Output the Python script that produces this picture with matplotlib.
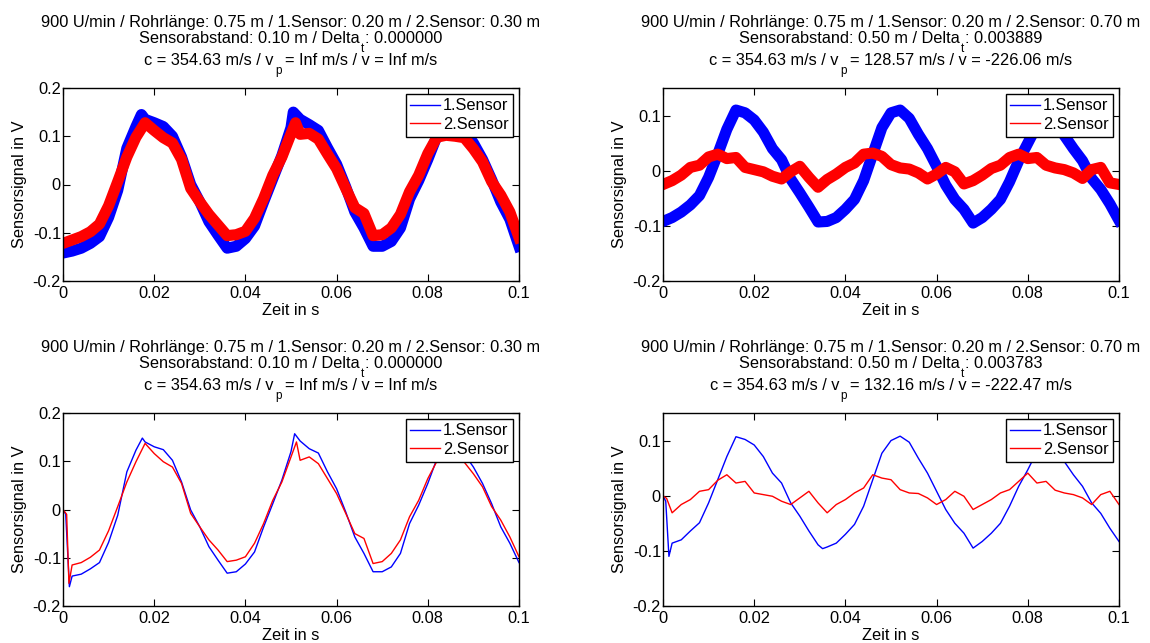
import matplotlib
matplotlib.use("Agg")
import matplotlib.pyplot as plt
from matplotlib.lines import Line2D

plt.rcParams['font.family'] = ['Liberation Sans', 'DejaVu Sans']

# ---------------- data ----------------
x_ticks = [0, 0.02, 0.04, 0.06, 0.08, 0.1]
x_ticklabels = ["0", "0.02", "0.04", "0.06", "0.08", "0.1"]
y_ticks_left = [-0.2, -0.1, 0, 0.1, 0.2]
y_ticklabels_left = ["-0.2", "-0.1", "0", "0.1", "0.2"]
y_ticks_right = [-0.2, -0.1, 0, 0.1]
y_ticklabels_right = ["-0.2", "-0.1", "0", "0.1"]
legend_labels = ["1.Sensor", "2.Sensor"]

# title lines: (main text, subscript, rest)
titles_left = [("900 U/min / Rohrlänge: 0.75 m / 1.Sensor: 0.20 m / 2.Sensor: 0.30 m", "", ""),
               ("Sensorabstand: 0.10 m / Delta", "t", ": 0.000000"),
               ("c = 354.63 m/s / v", "p", "= Inf m/s / v = Inf m/s")]
titles_tr = [("900 U/min / Rohrlänge: 0.75 m / 1.Sensor: 0.20 m / 2.Sensor: 0.70 m", "", ""),
             ("Sensorabstand: 0.50 m / Delta", "t", ": 0.003889"),
             ("c = 354.63 m/s / v", "p", "= 128.57 m/s / v = -226.06 m/s")]
titles_br = [("900 U/min / Rohrlänge: 0.75 m / 1.Sensor: 0.20 m / 2.Sensor: 0.70 m", "", ""),
             ("Sensorabstand: 0.50 m / Delta", "t", ": 0.003783"),
             ("c = 354.63 m/s / v", "p", "= 132.16 m/s / v = -222.47 m/s")]

# bottom-left (filtered, sensors at 0.20 / 0.30 m)
bl_t1 = [0, 0.0006, 0.0014, 0.002, 0.004, 0.006, 0.008, 0.010, 0.012, 0.014, 0.016, 0.0174,
         0.018, 0.020, 0.022, 0.024, 0.026, 0.028, 0.030, 0.032, 0.034, 0.036, 0.038, 0.040,
         0.042, 0.044, 0.046, 0.048, 0.050, 0.0508, 0.052, 0.054, 0.056, 0.058, 0.060, 0.062,
         0.064, 0.066, 0.068, 0.070, 0.072, 0.074, 0.076, 0.078, 0.080, 0.082, 0.084, 0.086,
         0.088, 0.090, 0.092, 0.094, 0.096, 0.098, 0.100]
bl_s1 = [0, -0.01, -0.16, -0.138, -0.134, -0.123, -0.110, -0.068, -0.012, 0.078, 0.123, 0.148,
         0.140, 0.130, 0.124, 0.102, 0.057, -0.001, -0.036, -0.077, -0.105, -0.132, -0.129, -0.113,
         -0.088, -0.036, 0.012, 0.061, 0.120, 0.157, 0.142, 0.126, 0.117, 0.078, 0.043, -0.005,
         -0.057, -0.091, -0.129, -0.129, -0.119, -0.091, -0.029, 0.009, 0.054, 0.105, 0.125, 0.130,
         0.115, 0.088, 0.054, 0.012, -0.036, -0.070, -0.110]
bl_t2 = [0, 0.0008, 0.0013, 0.002, 0.004, 0.006, 0.008, 0.010, 0.012, 0.014, 0.016, 0.018,
         0.020, 0.022, 0.024, 0.026, 0.028, 0.030, 0.032, 0.034, 0.036, 0.038, 0.040, 0.042,
         0.044, 0.046, 0.048, 0.050, 0.0512, 0.052, 0.054, 0.056, 0.058, 0.060, 0.062, 0.064,
         0.066, 0.068, 0.070, 0.072, 0.074, 0.076, 0.078, 0.080, 0.082, 0.084, 0.086, 0.088,
         0.090, 0.092, 0.094, 0.096, 0.098, 0.100]
bl_s2 = [0, -0.01, -0.153, -0.115, -0.110, -0.099, -0.084, -0.044, 0.006, 0.057, 0.099, 0.137,
         0.116, 0.099, 0.088, 0.054, -0.008, -0.036, -0.063, -0.084, -0.108, -0.105, -0.098, -0.070,
         -0.029, 0.019, 0.057, 0.109, 0.140, 0.102, 0.109, 0.095, 0.064, 0.033, -0.008, -0.050,
         -0.060, -0.112, -0.108, -0.091, -0.063, -0.015, 0.019, 0.064, 0.100, 0.105, 0.100, 0.098,
         0.074, 0.047, 0.006, -0.022, -0.057, -0.098]

# top-left (raw, same sensors)
tl_t1 = [0, 0.002, 0.004, 0.006, 0.008, 0.010, 0.012, 0.014, 0.016, 0.0172, 0.018, 0.020, 0.022,
         0.024, 0.026, 0.028, 0.030, 0.032, 0.034, 0.036, 0.038, 0.040, 0.042, 0.044, 0.046,
         0.048, 0.050, 0.0505, 0.052, 0.054, 0.056, 0.058, 0.060, 0.062, 0.064, 0.066, 0.068,
         0.070, 0.072, 0.074, 0.076, 0.078, 0.080, 0.082, 0.084, 0.086, 0.088, 0.090, 0.092,
         0.094, 0.096, 0.098, 0.100]
tl_s1 = [-0.142, -0.138, -0.132, -0.122, -0.108, -0.068, -0.012, 0.075, 0.120, 0.145, 0.135,
         0.128, 0.120, 0.100, 0.057, 0.000, -0.036, -0.077, -0.105, -0.132, -0.128, -0.112,
         -0.086, -0.036, 0.012, 0.060, 0.118, 0.150, 0.135, 0.124, 0.112, 0.076, 0.042, -0.005,
         -0.057, -0.090, -0.128, -0.128, -0.118, -0.090, -0.030, 0.008, 0.052, 0.100, 0.118,
         0.125, 0.112, 0.086, 0.052, 0.010, -0.036, -0.072, -0.128]
tl_t2 = [0, 0.002, 0.004, 0.006, 0.008, 0.010, 0.012, 0.014, 0.016, 0.018, 0.020, 0.022, 0.024,
         0.026, 0.028, 0.030, 0.032, 0.034, 0.036, 0.038, 0.040, 0.042, 0.044, 0.046, 0.048,
         0.050, 0.051, 0.052, 0.054, 0.056, 0.058, 0.060, 0.062, 0.064, 0.066, 0.068, 0.070,
         0.072, 0.074, 0.076, 0.078, 0.080, 0.082, 0.084, 0.086, 0.088, 0.090, 0.092, 0.094,
         0.096, 0.098, 0.100]
tl_s2 = [-0.122, -0.115, -0.108, -0.098, -0.082, -0.044, 0.006, 0.057, 0.098, 0.128, 0.112,
         0.097, 0.086, 0.052, -0.008, -0.036, -0.062, -0.084, -0.106, -0.104, -0.097, -0.070,
         -0.029, 0.019, 0.057, 0.105, 0.128, 0.104, 0.106, 0.094, 0.063, 0.033, -0.008, -0.048,
         -0.060, -0.106, -0.104, -0.090, -0.062, -0.015, 0.019, 0.064, 0.098, 0.102, 0.100, 0.097,
         0.074, 0.047, 0.006, -0.022, -0.057, -0.110]

# bottom-right (filtered, sensors at 0.20 / 0.70 m)
br_t1 = [0, 0.0006, 0.0013, 0.002, 0.004, 0.006, 0.008, 0.010, 0.012, 0.014, 0.016, 0.018,
         0.020, 0.022, 0.024, 0.026, 0.028, 0.030, 0.032, 0.034, 0.035, 0.036, 0.038, 0.040,
         0.042, 0.044, 0.046, 0.048, 0.050, 0.052, 0.054, 0.056, 0.058, 0.060, 0.062, 0.064,
         0.066, 0.068, 0.070, 0.072, 0.074, 0.076, 0.078, 0.080, 0.082, 0.084, 0.086, 0.088,
         0.090, 0.092, 0.094, 0.096, 0.098, 0.100]
br_s1 = [0, -0.01, -0.110, -0.086, -0.080, -0.064, -0.049, -0.013, 0.029, 0.071, 0.107, 0.102,
         0.092, 0.071, 0.041, 0.023, -0.013, -0.037, -0.064, -0.089, -0.096, -0.093, -0.086,
         -0.070, -0.052, -0.019, 0.029, 0.077, 0.100, 0.108, 0.097, 0.068, 0.041, 0.008, -0.025,
         -0.050, -0.068, -0.095, -0.083, -0.068, -0.050, -0.019, 0.017, 0.047, 0.080, 0.100,
         0.095, 0.062, 0.038, 0.017, -0.013, -0.032, -0.059, -0.083]
br_t2 = [0, 0.0008, 0.002, 0.004, 0.006, 0.008, 0.010, 0.012, 0.014, 0.016, 0.018, 0.020,
         0.022, 0.024, 0.026, 0.028, 0.030, 0.032, 0.034, 0.036, 0.038, 0.040, 0.042, 0.044,
         0.046, 0.048, 0.050, 0.052, 0.054, 0.056, 0.058, 0.060, 0.062, 0.064, 0.066, 0.068,
         0.070, 0.072, 0.074, 0.076, 0.078, 0.080, 0.082, 0.084, 0.086, 0.088, 0.090, 0.092,
         0.094, 0.096, 0.098, 0.100]
br_s2 = [0, -0.005, -0.031, -0.016, -0.007, 0.008, 0.011, 0.028, 0.038, 0.023, 0.026, 0.005,
         0.002, -0.001, -0.010, -0.016, -0.004, 0.008, -0.013, -0.031, -0.016, -0.007, 0.005,
         0.014, 0.038, 0.032, 0.029, 0.011, 0.005, 0.004, -0.004, -0.016, -0.007, 0.008, -0.001,
         -0.025, -0.016, -0.007, 0.005, 0.011, 0.026, 0.041, 0.023, 0.026, 0.010, 0.005, 0.002,
         -0.004, -0.016, 0.002, 0.008, -0.016]

# top-right (raw, same sensors)
tr_t1 = [0, 0.002, 0.004, 0.006, 0.008, 0.010, 0.012, 0.014, 0.016, 0.018, 0.020, 0.022, 0.024,
         0.026, 0.028, 0.030, 0.032, 0.034, 0.036, 0.038, 0.040, 0.042, 0.044, 0.046, 0.048,
         0.050, 0.052, 0.054, 0.056, 0.058, 0.060, 0.062, 0.064, 0.066, 0.068, 0.070, 0.072,
         0.074, 0.076, 0.078, 0.080, 0.082, 0.084, 0.086, 0.088, 0.090, 0.092, 0.094, 0.096,
         0.098, 0.100]
tr_s1 = [-0.092, -0.085, -0.075, -0.062, -0.045, -0.012, 0.030, 0.075, 0.110, 0.105, 0.092,
         0.070, 0.040, 0.020, -0.015, -0.040, -0.066, -0.093, -0.092, -0.085, -0.070, -0.052,
         -0.018, 0.030, 0.078, 0.105, 0.110, 0.095, 0.066, 0.040, 0.008, -0.026, -0.052, -0.070,
         -0.095, -0.085, -0.070, -0.052, -0.020, 0.018, 0.050, 0.082, 0.102, 0.096, 0.064,
         0.040, 0.018, -0.014, -0.034, -0.060, -0.090]
tr_t2 = [0, 0.002, 0.004, 0.006, 0.008, 0.010, 0.012, 0.014, 0.016, 0.018, 0.020, 0.022, 0.024,
         0.026, 0.028, 0.030, 0.032, 0.034, 0.036, 0.038, 0.040, 0.042, 0.044, 0.046, 0.048,
         0.050, 0.052, 0.054, 0.056, 0.058, 0.060, 0.062, 0.064, 0.066, 0.068, 0.070, 0.072,
         0.074, 0.076, 0.078, 0.080, 0.082, 0.084, 0.086, 0.088, 0.090, 0.092, 0.094, 0.096,
         0.098, 0.100]
tr_s2 = [-0.025, -0.018, -0.008, 0.006, 0.010, 0.025, 0.030, 0.022, 0.024, 0.006, 0.002, -0.002,
         -0.010, -0.015, -0.002, 0.008, -0.012, -0.030, -0.016, -0.006, 0.006, 0.014, 0.030,
         0.032, 0.026, 0.011, 0.005, 0.003, -0.004, -0.015, -0.006, 0.006, -0.002, -0.024,
         -0.018, -0.008, 0.004, 0.010, 0.024, 0.030, 0.022, 0.024, 0.010, 0.005, 0.002, -0.004,
         -0.014, 0.002, 0.006, -0.022, -0.025]

# ---------------- figure ----------------
W, H = 1150, 643
fig = plt.figure(figsize=(W / 100, H / 100), dpi=100)
FS = 11.8
BLUE = (0, 0, 1)
RED = (1, 0, 0)
renderer = fig.canvas.get_renderer()


def px_axes(left, top, right, bottom):
    return fig.add_axes([left / W, 1 - bottom / H, (right - left) / W, (bottom - top) / H])


def style(ax, ylim, yticks, yticklabels):
    ax.set_xlim(0, 0.1)
    ax.set_ylim(*ylim)
    ax.set_xticks(x_ticks)
    ax.set_xticklabels(x_ticklabels)
    ax.set_yticks(yticks)
    ax.set_yticklabels(yticklabels)
    ax.tick_params(direction='in', length=5, width=0.8, top=True, right=True,
                   labelsize=FS, colors='black')
    ax.tick_params(axis='y', pad=1.5)
    ax.tick_params(axis='x', pad=3.5)
    for sp in ax.spines.values():
        sp.set_linewidth(1.0)
        sp.set_color('black')
    ax.set_xlabel("Zeit in s", fontsize=FS, labelpad=0)
    ax.set_ylabel("Sensorsignal in V", fontsize=FS)
    ax.yaxis.set_label_coords(-0.078, 0.5)
    ax.xaxis.set_label_coords(0.5, -0.112)
    handles = [Line2D([], [], color=BLUE, lw=1.0), Line2D([], [], color=RED, lw=1.0)]
    leg = ax.legend(handles, legend_labels, loc='upper right', fontsize=FS,
                    handlelength=1.8, handletextpad=0.2, borderpad=0.28,
                    labelspacing=0.22, borderaxespad=0.35, fancybox=False,
                    framealpha=1, edgecolor='black')
    leg.get_frame().set_linewidth(1.0)


def text_width(s, size):
    t = fig.text(0, 0, s, fontsize=size)
    w = t.get_window_extent(renderer).width
    t.remove()
    return w


def title_line(main, sub, rest, cx, base):
    sub_fs = FS * 0.72
    gap_sub = 1.0
    gap_rest = 4.0 if rest.startswith("=") else 1.0
    w_main = text_width(main, FS)
    w_sub = text_width(sub, sub_fs) if sub else 0
    w_rest = text_width(rest, FS) if rest else 0
    total = w_main + (gap_sub + w_sub + gap_rest + w_rest if sub else 0)
    x = cx - total / 2
    fig.text(x / W, 1 - base / H, main, ha='left', va='baseline', fontsize=FS)
    if sub:
        x += w_main + gap_sub
        fig.text(x / W, 1 - (base + 9) / H, sub, ha='left', va='baseline', fontsize=sub_fs)
        x += w_sub + gap_rest
        fig.text(x / W, 1 - base / H, rest, ha='left', va='baseline', fontsize=FS)


def titles(lines, cx, top_off):
    for (main, sub, rest), base in zip(lines, [27, 43, 65]):
        title_line(main, sub, rest, cx, base + top_off)


panels = [
    (63, 519, 0, (-0.2, 0.2), y_ticks_left, y_ticklabels_left, titles_left,
     (tl_t1, tl_s1), (tl_t2, tl_s2), 8.0),
    (663, 1119, 0, (-0.2, 0.15), y_ticks_right, y_ticklabels_right, titles_tr,
     (tr_t1, tr_s1), (tr_t2, tr_s2), 8.0),
    (63, 519, 325, (-0.2, 0.2), y_ticks_left, y_ticklabels_left, titles_left,
     (bl_t1, bl_s1), (bl_t2, bl_s2), 1.0),
    (663, 1119, 325, (-0.2, 0.15), y_ticks_right, y_ticklabels_right, titles_br,
     (br_t1, br_s1), (br_t2, br_s2), 1.0),
]

for left, right, off, ylim, yt, ytl, tl, s1, s2, lw in panels:
    ax = px_axes(left, 88 + off, right, 281 + off)
    ax.plot(s1[0], s1[1], color=BLUE, lw=lw, solid_joinstyle='round')
    ax.plot(s2[0], s2[1], color=RED, lw=lw, solid_joinstyle='round')
    style(ax, ylim, yt, ytl)
    titles(tl, (left + right) / 2, off)

fig.savefig("out.png", dpi=100, facecolor='white')
